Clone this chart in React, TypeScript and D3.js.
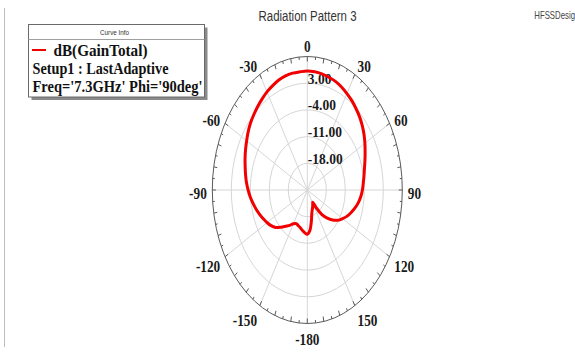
import React from "react";
import * as d3 from "d3";

const W = 575;
const H = 358;

// Far-field cut: theta (deg) and dB(GainTotal)
const thetaDeg = [
  -180, -175, -170, -165, -160, -155, -150, -145, -140, -135, -130, -125, -120, -115, -110, -105,
  -100, -95, -90, -85, -80, -75, -70, -65, -60, -55, -50, -45, -40, -35, -30, -25, -20, -15, -10, -5,
  0, 5, 10, 15, 20, 25, 30, 35, 40, 45, 50, 55, 60, 65, 70, 75, 80, 85, 90, 95, 100, 105, 110, 115,
  120, 125, 130, 135, 140, 145, 148, 150, 155, 160, 165, 170, 175,
];
const gainDb = [
  -13.4, -13.8, -14.3, -14.8, -15.1, -15.3, -14.8, -13.7, -12.6, -11.2, -9.7, -8.7, -7.9, -7.1, -6.3, -5.5,
  -4.7, -3.9, -3.2, -2.5, -1.9, -1.3, -0.6, 0.1, 0.8, 1.6, 2.3, 2.9, 3.5, 4.1, 4.7, 5.2, 5.7, 6.0, 6.1, 6.1,
  6.2, 6.1, 5.9, 5.6, 5.3, 4.8, 4.2, 3.6, 2.9, 2.2, 1.4, 0.5, -0.5, -1.5, -2.4, -3.2, -3.8, -4.3, -4.7, -5.2,
  -5.9, -6.8, -7.8, -8.8, -10.0, -11.2, -12.8, -14.6, -16.6, -19.4, -21.2, -21.0, -20.3, -19.6, -18.6, -16.5, -14.3,
];

// Radial axis
const radialMin = -25;
const radialMax = 10;
const ringValues = [3, -4, -11, -18];
const ringLabels = ["3.00", "-4.00", "-11.00", "-18.00"];

// Angular axis
const angleLabelDeg = [0, 30, 60, 90, 120, 150, 180, -150, -120, -90, -60, -30];
const angleLabelText = ["0", "30", "60", "90", "120", "150", "-180", "-150", "-120", "-90", "-60", "-30"];
const spokeDeg = d3.range(0, 360, 30);
const tickDeg = d3.range(0, 360, 5);

// Legend text
const legendHeader = "Curve Info";
const traceName = "dB(GainTotal)";
const setupLine = "Setup1 : LastAdaptive";
const sweepLine = "Freq='7.3GHz' Phi='90deg'";
const titleText = "Radiation Pattern 3";
const designText = "HFSSDesign1";

const CX = 307.3;
const CY = 190;
const RX = 95;
const RY = 133.5;

const SERIF = "'Liberation Serif', 'Times New Roman', serif";
const SANS = "'Liberation Sans', Arial, sans-serif";

const rScale = d3.scaleLinear().domain([radialMin, radialMax]).range([0, 1]);

function toXY(deg: number, frac: number): [number, number] {
  const a = (deg * Math.PI) / 180;
  return [CX + RX * frac * Math.sin(a), CY - RY * frac * Math.cos(a)];
}

export default function App() {
  const pts = thetaDeg.map((t, i) => toXY(t, rScale(gainDb[i])));
  const tracePath = d3
    .line<[number, number]>()
    .x((d) => d[0])
    .y((d) => d[1])
    .curve(d3.curveCatmullRomClosed.alpha(0.5))(pts) as string;

  return (
    <svg width={W} height={H} style={{ display: "block", position: "absolute", left: 0, top: 0 }}>
      <rect x={0} y={0} width={W} height={H} fill="#ffffff" />
      <line x1={4.5} y1={8} x2={4.5} y2={347} stroke="#bdbdbd" strokeWidth={1} />

      {/* title */}
      <text
        x={307.5}
        y={20.5}
        textAnchor="middle"
        fontFamily={SANS}
        fontSize={14}
        fill="#333"
        textLength={98}
        lengthAdjust="spacingAndGlyphs"
      >
        {titleText}
      </text>
      <text
        transform="translate(534.3,18.7) scale(0.78,1)"
        fontFamily={SANS}
        fontSize={10}
        fill="#444"
      >
        {designText}
      </text>

      {/* grid */}
      <g fill="none" stroke="#d6d6d6" strokeWidth={1}>
        {spokeDeg.map((d) => {
          const [x, y] = toXY(d, 1);
          return <line key={`s${d}`} x1={CX} y1={CY} x2={x} y2={y} />;
        })}
        {ringValues.map((v) => (
          <ellipse key={`r${v}`} cx={CX} cy={CY} rx={RX * rScale(v)} ry={RY * rScale(v)} />
        ))}
      </g>
      <ellipse cx={CX} cy={CY} rx={RX} ry={RY} fill="none" stroke="#5a5a5a" strokeWidth={1} />
      <g stroke="#5a5a5a" strokeWidth={1}>
        {tickDeg.map((d) => {
          const len = d % 10 === 0 ? 5 : 3;
          const [x1, y1] = toXY(d, 1);
          const [x2, y2] = toXY(d, 1 - len / RY);
          return <line key={`t${d}`} x1={x1} y1={y1} x2={x2} y2={y2} />;
        })}
      </g>

      {/* radial labels */}
      {ringValues.map((v, i) => (
        <text
          key={`rl${v}`}
          transform={`translate(${CX + 0.5},${CY - RY * rScale(v) + 0.5}) scale(0.9,1)`}
          fontFamily={SERIF}
          fontWeight="bold"
          fontSize={15}
          fill="#1a1a1a"
        >
          {ringLabels[i]}
        </text>
      ))}

      {/* angle labels */}
      {angleLabelDeg.map((d, i) => {
        const a = (d * Math.PI) / 180;
        const s = Math.sin(a);
        const c = Math.cos(a);
        const anchor = s > 0.01 ? "start" : s < -0.01 ? "end" : "middle";
        const x = CX + (RX + 5.5) * s;
        const y = CY - (RY + 13) * c + 3.5 + 5.4;
        return (
          <text
            key={`al${d}`}
            transform={`translate(${x},${y}) scale(0.83,1)`}
            textAnchor={anchor}
            fontFamily={SERIF}
            fontWeight="bold"
            fontSize={16}
            fill="#1a1a1a"
          >
            {angleLabelText[i]}
          </text>
        );
      })}

      {/* trace */}
      <path d={tracePath} fill="none" stroke="#f20000" strokeWidth={3} strokeLinejoin="round" />

      {/* legend */}
      <rect x={31.5} y={27.5} width={176} height={72.5} fill="#8a8a8a" />
      <rect x={28.5} y={24.5} width={176} height={72.5} fill="#ffffff" stroke="#6a6a6a" strokeWidth={1} />
      <line x1={28.5} y1={39.5} x2={204.5} y2={39.5} stroke="#a0a0a0" strokeWidth={1} />
      <text
        x={114.5}
        y={35}
        textAnchor="middle"
        fontFamily={SANS}
        fontSize={7.5}
        fill="#333"
        textLength={29}
        lengthAdjust="spacingAndGlyphs"
      >
        {legendHeader}
      </text>
      <line x1={32} y1={50} x2={46} y2={50} stroke="#f20000" strokeWidth={2} />
      <text
        x={53.5}
        y={55.5}
        fontFamily={SERIF}
        fontWeight="bold"
        fontSize={16.5}
        fill="#111"
        textLength={94}
        lengthAdjust="spacingAndGlyphs"
      >
        {traceName}
      </text>
      <text
        x={32.5}
        y={73.5}
        fontFamily={SERIF}
        fontWeight="bold"
        fontSize={16.5}
        fill="#111"
        textLength={136}
        lengthAdjust="spacingAndGlyphs"
      >
        {setupLine}
      </text>
      <text
        x={32.5}
        y={92}
        fontFamily={SERIF}
        fontWeight="bold"
        fontSize={16.5}
        fill="#111"
        textLength={170}
        lengthAdjust="spacingAndGlyphs"
      >
        {sweepLine}
      </text>
    </svg>
  );
}
